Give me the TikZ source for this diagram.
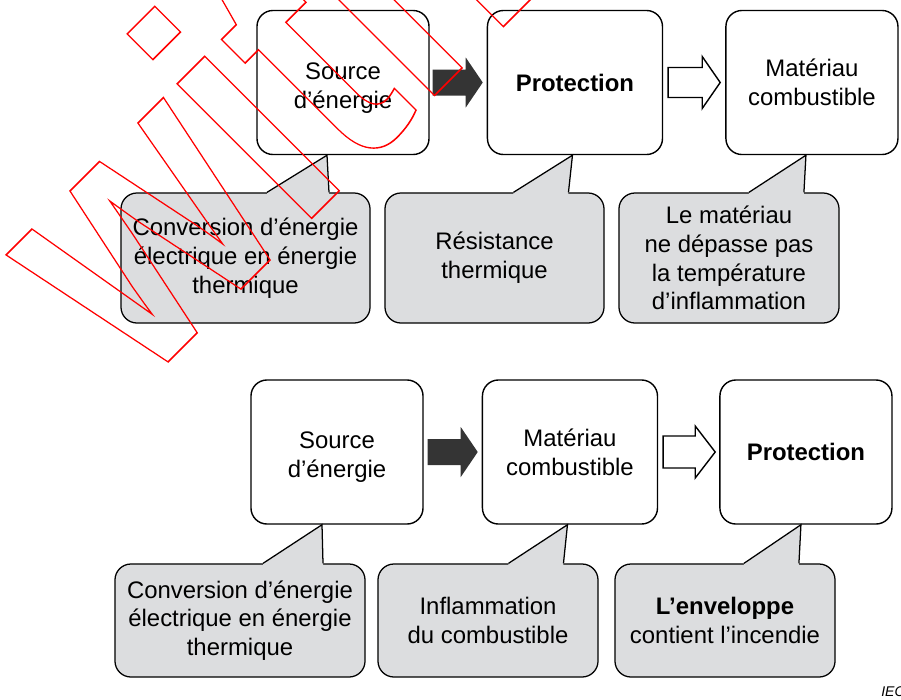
\documentclass[tikz,border=0pt]{standalone}
\usepackage{fontspec}
\setmainfont{Liberation Sans}
\usetikzlibrary{calc,positioning}
\definecolor{bubblegray}{RGB}{220,221,223}
\definecolor{arrowdark}{RGB}{52,52,52}
\tikzset{
  stepbox/.style={
    rectangle,
    rounded corners=0.4cm,
    draw=black, line width=1pt,
    fill=white,
    minimum width=4.3cm,
    minimum height=3.6cm,
    align=center,
    font=\fontsize{17}{20.5}\selectfont},
  bubble/.style={
    rectangle,
    rounded corners=0.4cm,
    draw=black, line width=0.9pt,
    fill=bubblegray,
    align=center,
    font=\fontsize{17}{20.5}\selectfont},
  bubbletail/.style={fill=bubblegray},
  tailline/.style={draw=black, line width=0.9pt, line join=miter},
  fullarrow/.style={fill=arrowdark},
  hollowarrow/.style={draw=black, line width=1pt, fill=white, line join=miter},
  wmark/.style={anchor=base west, inner sep=0pt, rotate=45, xscale=0.79,
    text=red, font=\bfseries\fontsize{256}{256}\selectfont},
}

\begin{document}
\begin{tikzpicture}[x=0.025cm, y=-0.025cm]
  \useasboundingbox (0,0) rectangle (901,699);

  % first chain
  \node[stepbox] (src) at (343,82.5) {\rule{0pt}{19.5pt}Source\\d’énergie};
  \node[stepbox, minimum width=4.375cm, right=1.425cm of src] (prot) {\textbf{Protection}};
  \node[stepbox, right=1.55cm of prot] (mat) {Matériau\\combustible};

  \node[bubble, minimum width=6.225cm, minimum height=3.25cm] (conv) at (245.5,258)
    {Conversion d’énergie\\électrique en énergie\\thermique};
  \node[bubble, minimum width=5.475cm, minimum height=3.25cm] (resist) at (494.5,258)
    {Résistance\\thermique};
  \node[bubble, minimum width=5.5cm, minimum height=3.25cm] (temp) at (729,258)
    {Le matériau\\ne dépasse pas\\la température\\d’inflammation};

  % second chain
  \node[stepbox] (src2) at (337,452) {\rule{0pt}{19.5pt}Source\\d’énergie};
  \node[stepbox, minimum width=4.375cm, right=1.45cm of src2] (mat2) {Matériau\\combustible};
  \node[stepbox, right=1.525cm of mat2] (prot2) {\textbf{Protection}};

  \node[bubble, minimum width=6.25cm, minimum height=2.825cm] (conv2) at (240,620.5)
    {Conversion d’énergie\\électrique en énergie\\thermique};
  \node[bubble, minimum width=5.5cm, minimum height=2.825cm] (flame) at (488,620.5)
    {Inflammation\\du combustible};
  \node[bubble, minimum width=5.5cm, minimum height=2.825cm] (encl) at (725,620.5)
    {\textbf{L’enveloppe}\\contient l’incendie};

  % tails of the bubbles
  \coordinate (t1) at ($(src.south)+(-16,0)$);
  \fill[bubbletail] ($(t1|-conv.north)+(-60,2)$) -- ($(t1|-conv.north)+(-60,0)$) -- (t1)
    -- ($(t1|-conv.north)+(2,0)$) -- ($(t1|-conv.north)+(2,2)$) -- cycle;
  \draw[tailline] ($(t1|-conv.north)+(-60,0)$) -- (t1) -- ($(t1|-conv.north)+(2,0)$);

  \coordinate (t2) at ($(prot.south)+(-2.5,0)$);
  \fill[bubbletail] ($(t2|-resist.north)+(-59,2)$) -- ($(t2|-resist.north)+(-59,0)$) -- (t2)
    -- ($(t2|-resist.north)+(-4,0)$) -- ($(t2|-resist.north)+(-4,2)$) -- cycle;
  \draw[tailline] ($(t2|-resist.north)+(-59,0)$) -- (t2) -- ($(t2|-resist.north)+(-4,0)$);

  \coordinate (t3) at ($(mat.south)+(-6,0)$);
  \fill[bubbletail] ($(t3|-temp.north)+(-57,2)$) -- ($(t3|-temp.north)+(-57,0)$) -- (t3)
    -- ($(t3|-temp.north)+(-2,0)$) -- ($(t3|-temp.north)+(-2,2)$) -- cycle;
  \draw[tailline] ($(t3|-temp.north)+(-57,0)$) -- (t3) -- ($(t3|-temp.north)+(-2,0)$);

  \coordinate (t4) at ($(src2.south)+(-15,0)$);
  \fill[bubbletail] ($(t4|-conv2.north)+(-59,2)$) -- ($(t4|-conv2.north)+(-59,0)$) -- (t4)
    -- ($(t4|-conv2.north)+(1,0)$) -- ($(t4|-conv2.north)+(1,2)$) -- cycle;
  \draw[tailline] ($(t4|-conv2.north)+(-59,0)$) -- (t4) -- ($(t4|-conv2.north)+(1,0)$);

  \coordinate (t5) at ($(mat2.south)+(-2.5,0)$);
  \fill[bubbletail] ($(t5|-flame.north)+(-59,2)$) -- ($(t5|-flame.north)+(-59,0)$) -- (t5)
    -- ($(t5|-flame.north)+(-4,0)$) -- ($(t5|-flame.north)+(-4,2)$) -- cycle;
  \draw[tailline] ($(t5|-flame.north)+(-59,0)$) -- (t5) -- ($(t5|-flame.north)+(-4,0)$);

  \coordinate (t6) at ($(prot2.south)+(-5,0)$);
  \fill[bubbletail] ($(t6|-encl.north)+(-57,2)$) -- ($(t6|-encl.north)+(-57,0)$) -- (t6)
    -- ($(t6|-encl.north)+(-2,0)$) -- ($(t6|-encl.north)+(-2,2)$) -- cycle;
  \draw[tailline] ($(t6|-encl.north)+(-57,0)$) -- (t6) -- ($(t6|-encl.north)+(-2,0)$);

  % block arrows
  \fill[fullarrow] ($(src.east)+(3,-13)$) -- ($(prot.west)+(-21,-13)$) -- ($(prot.west)+(-21,-25)$)
    -- ($(prot.west)+(-4,0)$) -- ($(prot.west)+(-21,25)$) -- ($(prot.west)+(-21,13)$)
    -- ($(src.east)+(3,13)$) -- cycle;
  \draw[hollowarrow] ($(prot.east)+(5,-15)$) -- ($(mat.west)+(-23,-15)$) -- ($(mat.west)+(-23,-26)$)
    -- ($(mat.west)+(-5,0)$) -- ($(mat.west)+(-23,26)$) -- ($(mat.west)+(-23,15)$)
    -- ($(prot.east)+(5,15)$) -- cycle;

  \fill[fullarrow] ($(src2.east)+(4,-13)$) -- ($(mat2.west)+(-21,-13)$) -- ($(mat2.west)+(-21,-25)$)
    -- ($(mat2.west)+(-4,0)$) -- ($(mat2.west)+(-21,25)$) -- ($(mat2.west)+(-21,13)$)
    -- ($(src2.east)+(4,13)$) -- cycle;
  \draw[hollowarrow] ($(mat2.east)+(5,-16)$) -- ($(prot2.west)+(-24,-16)$) -- ($(prot2.west)+(-24,-26)$)
    -- ($(prot2.west)+(-4,0)$) -- ($(prot2.west)+(-24,26)$) -- ($(prot2.west)+(-24,16)$)
    -- ($(mat2.east)+(5,16)$) -- cycle;

  \node[anchor=base west, inner sep=0pt, font=\itshape\fontsize{10}{10}\selectfont] (iec) at (881,696) {IEC};

  % watermark
  \node[wmark] (wm) at (141,389)
    {\special{pdf:literal direct 1 Tr 1.1 w}withdrawn\special{pdf:literal direct 0 Tr}};
\end{tikzpicture}
\end{document}
